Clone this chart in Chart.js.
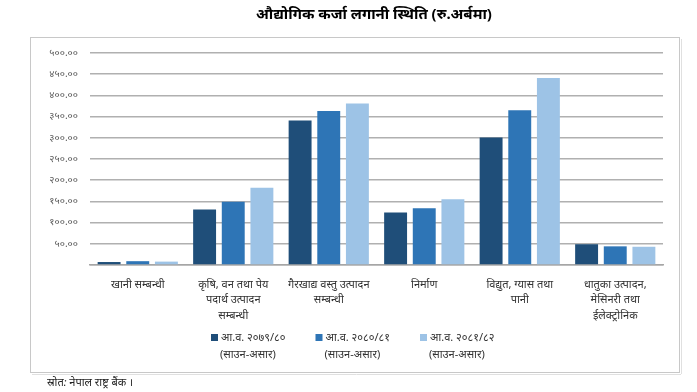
<!DOCTYPE html>
<html>
<head>
<meta charset="utf-8">
<script src="https://cdn.jsdelivr.net/npm/chart.js@4.4.1/dist/chart.umd.min.js"></script>
<style>
  html, body { margin: 0; padding: 0; background: #fff; }
  #wrap { width: 697px; height: 392px; position: relative; }
</style>
</head>
<body>
<div id="wrap"><canvas id="grafico" width="697" height="392"></canvas></div>
<script>
// Datos (रु. अर्बमा)
const categorias = [
    'खानी सम्बन्धी',
    ['कृषि, वन तथा पेय', 'पदार्थ उत्पादन', 'सम्बन्धी'],
    ['गैरखाद्य वस्तु उत्पादन', 'सम्बन्धी'],
    'निर्माण',
    ['विद्युत, ग्यास तथा', 'पानी'],
    ['धातुका उत्पादन,', 'मेसिनरी तथा', 'ईलेक्ट्रोनिक']
];
const series = ['आ.व. २०७९/८०', 'आ.व. २०८०/८१', 'आ.व. २०८१/८२'];
const subtitulo = '(साउन-असार)';
const valores7980 = [7, 131, 341, 124, 301, 49];
const valores8081 = [9, 149, 363, 134, 365, 44];
const valores8182 = [8, 182, 381, 155, 441, 43];
const titulo = 'औद्योगिक कर्जा लगानी स्थिति (रु.अर्बमा)';
const fuente = 'स्रोत: नेपाल राष्ट्र बैंक ।';

const colores = ['#1f4e79', '#2e75b6', '#9dc3e6'];
const fuenteBase = "'Noto Sans', 'DejaVu Sans', sans-serif";

const digitos = '०१२३४५६७८९';
function aNepali(n) {
    return n.toFixed(2).replace(/[0-9]/g, d => digitos[+d]);
}

// Marco, título, leyenda y fuente
const extras = {
    id: 'extras',
    afterDraw(chart) {
        const ctx = chart.ctx;
        ctx.save();
        // marco
        ctx.strokeStyle = '#c8c8c8';
        ctx.lineWidth = 1;
        ctx.strokeRect(30.5, 37.5, 649, 335);
        ctx.strokeStyle = '#e0e0e0';
        ctx.beginPath();
        ctx.moveTo(681.5, 39); ctx.lineTo(681.5, 374);
        ctx.moveTo(32, 374.5); ctx.lineTo(681, 374.5);
        ctx.stroke();

        // título
        ctx.fillStyle = '#000';
        ctx.font = 'bold 15px ' + fuenteBase;
        ctx.textAlign = 'center';
        ctx.textBaseline = 'middle';
        ctx.fillText(titulo, 374, 15);

        // leyenda
        ctx.font = '11px ' + fuenteBase;
        ctx.textAlign = 'left';
        chart.data.datasets.forEach((ds, i) => {
            const x = 211 + i * 104.5;
            ctx.fillStyle = ds.backgroundColor;
            ctx.fillRect(x, 334, 7, 7);
            ctx.fillStyle = '#333';
            ctx.fillText(ds.label, x + 10, 338);
            ctx.fillText(subtitulo, x + 9, 355);
        });

        // fuente
        ctx.font = 'italic 11px ' + fuenteBase;
        ctx.fillStyle = '#222';
        ctx.fillText(fuente, 47, 383);
        ctx.restore();
    }
};

const ctx = document.getElementById('grafico').getContext('2d');
new Chart(ctx, {
    type: 'bar',
    data: {
        labels: categorias,
        datasets: [
            { label: series[0], data: valores7980, backgroundColor: colores[0] },
            { label: series[1], data: valores8081, backgroundColor: colores[1] },
            { label: series[2], data: valores8182, backgroundColor: colores[2] }
        ]
    },
    options: {
        responsive: false,
        animation: false,
        devicePixelRatio: 1,
        categoryPercentage: 0.9,
        barPercentage: 0.8,
        layout: { padding: { left: 30, right: 34, top: 53, bottom: 17 } },
        plugins: {
            legend: { display: false },
            title: { display: false },
            tooltip: { enabled: false }
        },
        scales: {
            x: {
                afterFit(scale) { scale.height = 110; },
                grid: { display: false },
                border: { color: '#a6a6a6', width: 1.5 },
                ticks: {
                    color: '#333',
                    font: { family: fuenteBase, size: 11, lineHeight: 1.4 },
                    padding: 4,
                    maxRotation: 0,
                    autoSkip: false
                }
            },
            y: {
                min: 0,
                max: 500,
                afterFit(scale) { scale.width = 60; },
                border: { display: false },
                grid: { color: '#b0b0b0', lineWidth: 1.5, drawTicks: false },
                ticks: {
                    stepSize: 50,
                    color: '#595959',
                    padding: 12,
                    font: { family: fuenteBase, size: 10 },
                    callback: v => v === 0 ? '' : aNepali(v)
                }
            }
        }
    },
    plugins: [extras]
});
</script>
</body>
</html>
